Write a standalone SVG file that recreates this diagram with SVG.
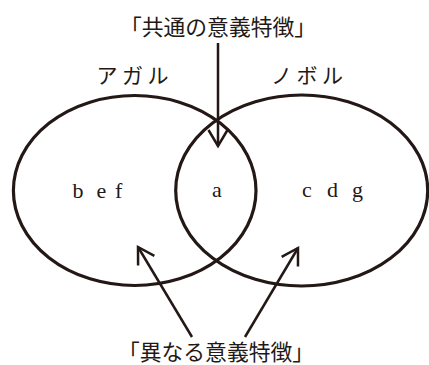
<svg xmlns="http://www.w3.org/2000/svg" width="429" height="365" viewBox="0 0 429 365">
<style>
.jp{font-family:"Noto Sans CJK JP","Noto Sans CJK SC",sans-serif;fill:#231815}
.lat{font-family:"Liberation Serif",serif;font-size:22px;fill:#231815}
.ell{fill:none;stroke:#231815;stroke-width:3.2}
.arr{fill:none;stroke:#231815;stroke-width:2.5}
</style>
<defs>
<marker id="v" markerUnits="userSpaceOnUse" orient="auto" refX="0" refY="0" markerWidth="40" markerHeight="40" viewBox="-20 -20 40 40" overflow="visible">
<path d="M-16,-9.5 L0,0 L-16,9.5" fill="none" stroke="#231815" stroke-width="2.5" stroke-linejoin="miter"/>
</marker>
</defs>
<g id="agaru">
<ellipse class="ell" cx="134.7" cy="190.5" rx="121.3" ry="95"/>
<text class="jp" x="96.5" y="83" font-size="21" letter-spacing="4.5">アガル</text>
<text class="lat" x="72.5 87 96.5 110 115" y="198">b e f</text>
</g>
<g id="noboru">
<ellipse class="ell" cx="301.7" cy="190.5" rx="126" ry="95.5"/>
<text class="jp" x="271" y="83" font-size="21" letter-spacing="4.5">ノボル</text>
<text class="lat" x="302 318 327 343 352" y="197">c d g</text>
</g>
<g id="common">
<text class="lat" x="212" y="197">a</text>
</g>
<g id="label-common">
<text class="jp" x="218" y="35" font-size="21.8" text-anchor="middle">「共通の意義特徴」</text>
</g>
<g id="label-diff">
<text class="jp" x="216" y="360" font-size="21.8" text-anchor="middle">「異なる意義特徴」</text>
</g>
<g id="connectors">
<line class="arr" x1="218" y1="43" x2="218" y2="146" marker-end="url(#v)"/>
<line class="arr" x1="192" y1="337" x2="138" y2="247" marker-end="url(#v)"/>
<line class="arr" x1="245" y1="337" x2="298" y2="248" marker-end="url(#v)"/>
</g>
</svg>
